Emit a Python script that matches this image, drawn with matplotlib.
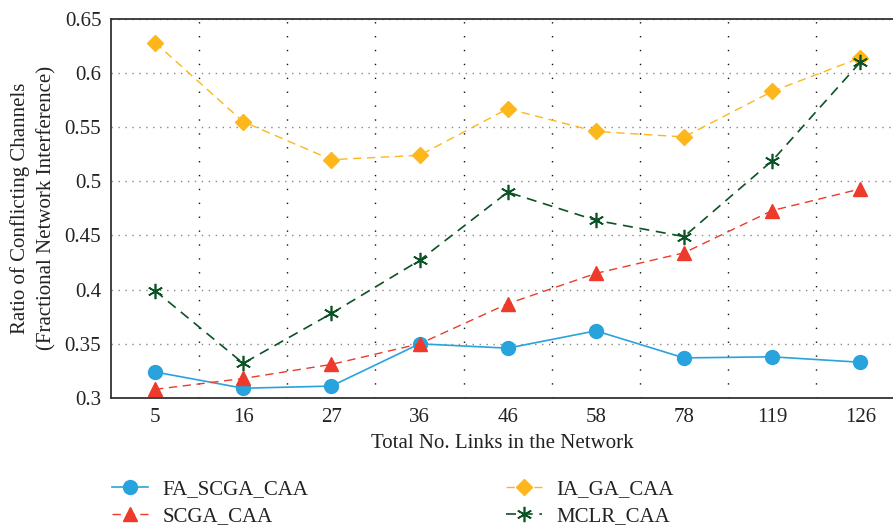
import numpy as np
import matplotlib
matplotlib.use("Agg")
import matplotlib.pyplot as plt

plt.rcParams['font.family'] = ['Liberation Serif', 'DejaVu Serif']

links = ['5', '16', '27', '36', '46', '58', '78', '119', '126']
fa_scga = [0.324, 0.309, 0.311, 0.350, 0.346, 0.362, 0.337, 0.338, 0.333]
scga = [0.308, 0.318, 0.331, 0.350, 0.387, 0.415, 0.434, 0.473, 0.493]
ia_ga = [0.628, 0.555, 0.520, 0.524, 0.567, 0.546, 0.541, 0.583, 0.614]
mclr = [0.399, 0.332, 0.378, 0.427, 0.490, 0.464, 0.449, 0.519, 0.610]
yticks = [0.3, 0.35, 0.4, 0.45, 0.5, 0.55, 0.6, 0.65]
ytick_labels = ['0.3', '0.35', '0.4', '0.45', '0.5', '0.55', '0.6', '0.65']

fig = plt.figure(figsize=(8.93, 5.27), dpi=100)
ax = fig.add_axes([0.1243, 0.2448, 0.8757, 0.7195])
x = np.arange(len(links))

ax.plot(x, fa_scga, '-', color='#29a3dd', lw=1.2, marker='o', ms=10, label='FA_SCGA_CAA')
ax.plot(x, scga, '--', color='#ee3a2a', lw=1.0, marker='^', ms=10, dashes=(6, 4), label='SCGA_CAA')
ax.plot(x, ia_ga, '--', color='#fdb71a', lw=1.0, marker='D', ms=8.5, dashes=(6, 4), label='IA_GA_CAA')
ax.plot(x, mclr, '--', color='#0b5324', lw=1.2, marker=(6, 2, 0), ms=11, mew=1.2, dashes=(6, 4), label='MCLR_CAA')

ax.set_xlim(-0.5, 8.37)
ax.set_ylim(0.3, 0.65)
ax.set_xticks(x)
ax.set_xticklabels(links)
ax.set_xticks(np.arange(0.5, 8.5, 1), minor=True)
ax.set_yticks(yticks)
ax.set_yticklabels(ytick_labels)
ax.tick_params(axis='both', which='both', length=0, labelsize=15, colors='#222222', pad=7)

ax.grid(axis='y', which='major', linestyle=(0, (1, 4)), color='#888888', lw=1.0)
ax.grid(axis='x', which='minor', linestyle=(0, (1, 9)), color='#111111', lw=1.0)
ax.set_axisbelow(True)

for s in ['left', 'top', 'bottom']:
    ax.spines[s].set_color('#333333')
    ax.spines[s].set_linewidth(1.3)
ax.spines['right'].set_visible(False)

ax.set_xlabel('Total No. Links in the Network', fontsize=15, color='#222222', labelpad=5)
ax.set_ylabel('Ratio of Conflicting Channels\n(Fractional Network Interference)', fontsize=15,
              color='#222222', labelpad=6, linespacing=1.45)

fig.legend(loc='lower left', bbox_to_anchor=(0.107, -0.03), ncol=2, frameon=False, fontsize=15,
           handlelength=1.7, handletextpad=0.7, columnspacing=9.5, labelspacing=0.35,
           labelcolor='#222222', borderaxespad=0.4)

fig.savefig('out.png', dpi=100)
